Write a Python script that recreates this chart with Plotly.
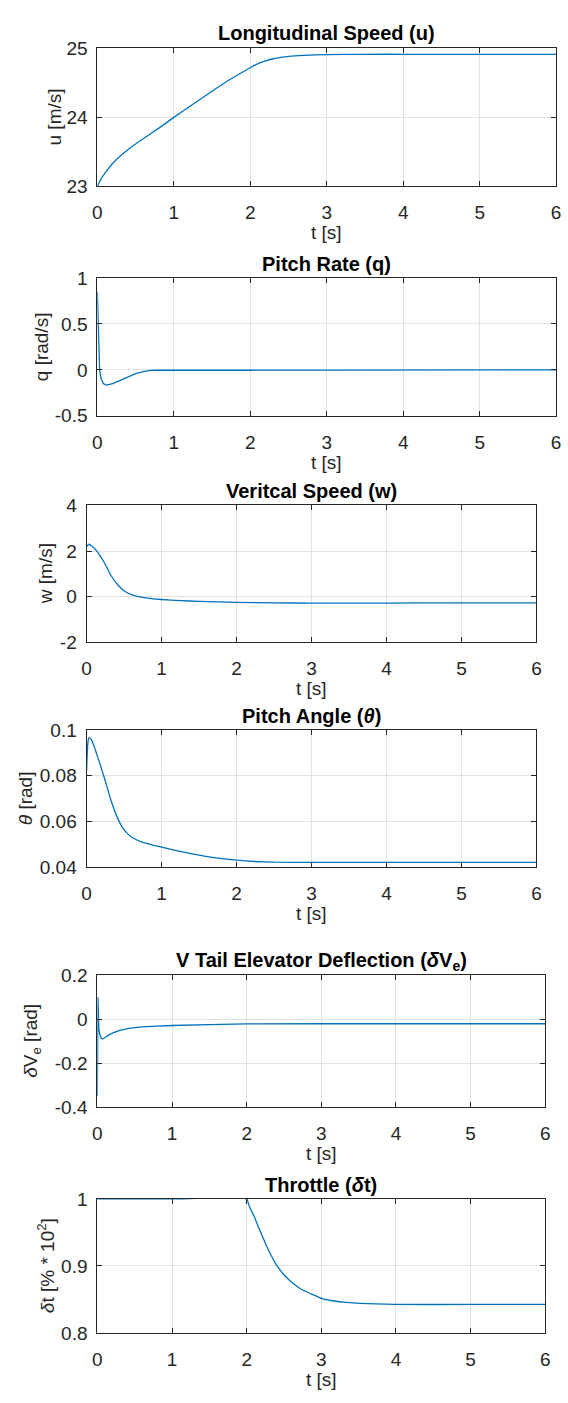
import plotly.graph_objects as go
from plotly.subplots import make_subplots

# ---------------- data ----------------
t_u = [0, 0.05, 0.1, 0.19, 0.3, 0.42, 0.6, 0.8, 1.0, 1.25, 1.5, 1.75, 2.0, 2.1, 2.2, 2.3, 2.4, 2.5, 2.7, 3.0, 3.5, 4, 5, 6]
u_vals = [23.0, 23.11, 23.19, 23.32, 23.44, 23.55, 23.69, 23.84, 24.0, 24.19, 24.38, 24.56, 24.72, 24.78, 24.82, 24.85, 24.87, 24.885, 24.9, 24.91, 24.915, 24.915, 24.915, 24.915]

t_q = [0, 0.01, 0.02, 0.03, 0.05, 0.08, 0.12, 0.16, 0.2, 0.3, 0.4, 0.5, 0.6, 0.7, 0.8, 1.0, 2, 3, 4, 5, 6]
q_vals = [0.85, 0.45, 0.15, 0.0, -0.1, -0.15, -0.165, -0.16, -0.15, -0.115, -0.075, -0.04, -0.018, -0.006, -0.003, -0.004, -0.004, -0.002, -0.001, 0.0, 0.0]

t_w = [0, 0.03, 0.07, 0.14, 0.24, 0.33, 0.43, 0.52, 0.62, 0.71, 0.81, 1.0, 1.25, 1.5, 2.0, 2.5, 3, 4, 5, 6]
w_vals = [2.2, 2.3, 2.22, 1.99, 1.48, 0.91, 0.47, 0.22, 0.07, -0.01, -0.06, -0.12, -0.17, -0.2, -0.25, -0.27, -0.275, -0.275, -0.27, -0.27]

t_theta = [0, 0.01, 0.02, 0.035, 0.06, 0.1, 0.14, 0.19, 0.24, 0.33, 0.4, 0.475, 0.55, 0.62, 0.75, 1.0, 1.25, 1.52, 1.75, 2.0, 2.25, 2.5, 3, 4, 5, 6]
theta_vals = [0.082, 0.09, 0.095, 0.0967, 0.096, 0.093, 0.089, 0.084, 0.0788, 0.0688, 0.0625, 0.0575, 0.0545, 0.0527, 0.0508, 0.0487, 0.0468, 0.0451, 0.0439, 0.043, 0.0424, 0.0421, 0.042, 0.042, 0.042, 0.042]

t_dve = [0, 0.008, 0.02, 0.03, 0.05, 0.065, 0.08, 0.1, 0.15, 0.2, 0.3, 0.44, 0.6, 0.8, 1.0, 1.5, 2.0, 3, 4, 5, 6]
dve_vals = [-0.35, 0.1, -0.04, -0.065, -0.085, -0.089, -0.088, -0.083, -0.072, -0.063, -0.05, -0.04, -0.034, -0.031, -0.028, -0.024, -0.021, -0.02, -0.02, -0.02, -0.02]

t_thr = [0, 1, 2.0, 2.03, 2.06, 2.1, 2.15, 2.2, 2.25, 2.3, 2.39, 2.49, 2.58, 2.72, 2.87, 3.01, 3.15, 3.3, 3.53, 4.0, 5, 6]
thr_vals = [1, 1, 1, 0.991, 0.983, 0.974, 0.96, 0.947, 0.934, 0.922, 0.903, 0.888, 0.878, 0.866, 0.858, 0.851, 0.848, 0.846, 0.844, 0.8425, 0.8425, 0.8425]

titles = ["Longitudinal Speed (u)", "Pitch Rate (q)", "Veritcal Speed (w)",
          "Pitch Angle (<i>θ</i>)", "V Tail Elevator Deflection (<i>δ</i>V<sub>e</sub>)",
          "Throttle (<i>δ</i>t)"]
ylabels = ["u [m/s]", "q [rad/s]", "w [m/s]", "<i>θ</i> [rad]",
           "<i>δ</i>V<sub>e</sub> [rad]", "<i>δ</i>t [% * 10<sup>2</sup>]"]
xlabel = "t [s]"
x_ticks = [0, 1, 2, 3, 4, 5, 6]
y_ticks = [[23, 24, 25], [-0.5, 0, 0.5, 1], [-2, 0, 2, 4], [0.04, 0.06, 0.08, 0.1],
           [-0.4, -0.2, 0, 0.2], [0.8, 0.9, 1]]
y_ranges = [[23, 25], [-0.5, 1], [-2, 4], [0.04, 0.1], [-0.4, 0.2], [0.8, 1]]

series = [(t_u, u_vals), (t_q, q_vals), (t_w, w_vals), (t_theta, theta_vals),
          (t_dve, dve_vals), (t_thr, thr_vals)]
shapes_line = ["spline", "linear", "spline", "spline", "linear", "spline"]

# ---------------- layout (pixels) ----------------
W, H = 568, 1403
boxes = [(94, 561, 39, 179), (94, 561, 272, 412), (83, 541, 503, 642),
         (83, 541, 731, 870), (94, 550, 980, 1114), (94, 550, 1207, 1343)]
title_y = [23, 258, 488, 717, 966, 1193]
ylabel_x = [50, 38, 42, 21, 28, 42]

FONT = "Liberation Sans, Arial, sans-serif"
AX = "#262626"
LINE = "#0072BD"


def fmt(v):
    return f"{v:g}"


fig = make_subplots(rows=6, cols=1)
annotations = []
for i, ((tx, yv), ls) in enumerate(zip(series, shapes_line)):
    r = i + 1
    fig.add_trace(go.Scatter(x=tx, y=yv, mode="lines",
                             line=dict(color=LINE, width=1.3, shape=ls, smoothing=0.5),
                             showlegend=False, hoverinfo="skip"), row=r, col=1)
    l, rr, top, bot = boxes[i]
    xd = [l / W, rr / W]
    yd = [1 - bot / H, 1 - top / H]
    fig.update_xaxes(domain=xd, range=[0, 6], tickvals=x_ticks, ticktext=[fmt(v) for v in x_ticks],
                     ticks="inside", ticklen=5,
                     tickcolor=AX, showline=True, linecolor=AX, linewidth=1, mirror="ticks",
                     showgrid=True, gridcolor="#e2e2e2", gridwidth=1, zeroline=False,
                     tickfont=dict(family=FONT, size=19, color=AX), ticklabelstandoff=9,
                     ticklabeloverflow="allow", row=r, col=1)
    fig.update_yaxes(domain=yd, range=y_ranges[i], tickvals=y_ticks[i],
                     ticktext=[fmt(v) for v in y_ticks[i]], ticks="inside", ticklen=5,
                     tickcolor=AX, showline=True, linecolor=AX, linewidth=1, mirror="ticks",
                     showgrid=True, gridcolor="#e2e2e2", gridwidth=1, zeroline=False,
                     tickfont=dict(family=FONT, size=19, color=AX), ticklabelstandoff=5,
                     ticklabeloverflow="allow", row=r, col=1)
    cx = (l + rr) / 2 / W
    annotations.append(dict(text="<b>" + titles[i] + "</b>", x=cx, y=1 - title_y[i] / H,
                            xref="paper", yref="paper", xanchor="center", yanchor="middle",
                            showarrow=False, font=dict(family=FONT, size=20, color="black")))
    annotations.append(dict(text=xlabel, x=cx, y=1 - (bot + 47) / H,
                            xref="paper", yref="paper", xanchor="center", yanchor="middle",
                            showarrow=False, font=dict(family=FONT, size=19, color=AX)))
    annotations.append(dict(text=ylabels[i], x=ylabel_x[i] / W, y=1 - (top + bot) / 2 / H,
                            xref="paper", yref="paper", xanchor="center", yanchor="middle",
                            textangle=-90, showarrow=False,
                            font=dict(family=FONT, size=19, color=AX)))

fig.update_layout(width=W, height=H, margin=dict(l=0, r=0, t=0, b=0),
                  paper_bgcolor="white", plot_bgcolor="white",
                  annotations=annotations, showlegend=False)

fig.write_html("out.html", config={"displayModeBar": False},
               post_script="document.body.style.margin='0';document.body.style.padding='0';"
                           "document.body.style.overflow='hidden';"
                           "document.documentElement.style.overflow='hidden';")
